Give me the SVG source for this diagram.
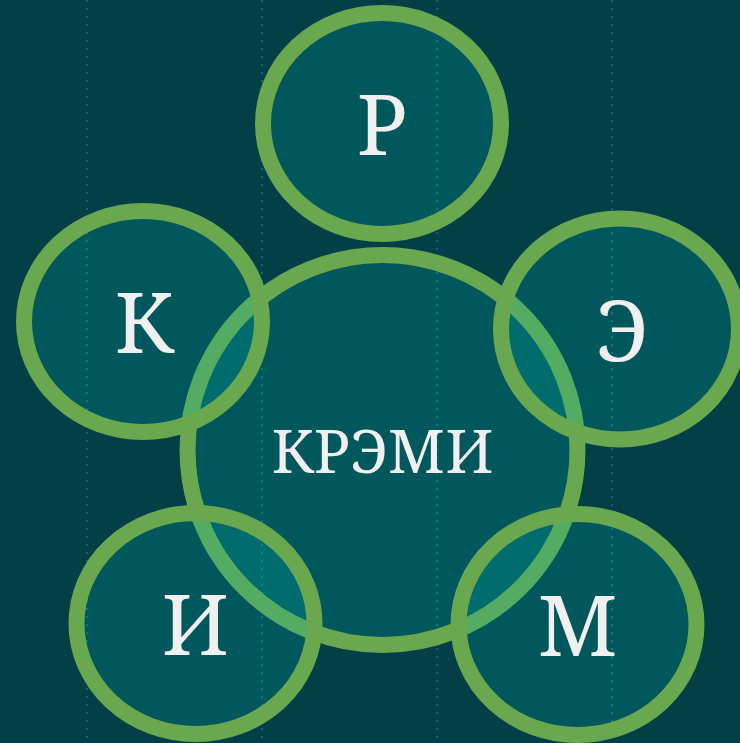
<svg xmlns="http://www.w3.org/2000/svg" width="740" height="743" viewBox="0 0 740 743">
<style>
.bg{fill:#023f47}
.grid line{stroke:#0b7580;stroke-width:1.6;stroke-dasharray:2 6}
.node ellipse,.node circle{fill:#00c0b4;fill-opacity:0.2;stroke:#6aa84f;stroke-width:16}
.lbl{font-family:"Noto Serif","DejaVu Serif",serif;fill:#f0f0f0;text-anchor:middle}
.big{font-size:84px}
.mid{font-size:60px}
</style>
<rect class="bg" x="0" y="0" width="740" height="743"/>
<g class="grid">
<line x1="87" y1="0" x2="87" y2="743"/>
<line x1="262" y1="0" x2="262" y2="743"/>
<line x1="437" y1="0" x2="437" y2="743"/>
<line x1="612" y1="0" x2="612" y2="743"/>
</g>
<g id="connectors"></g>
<g id="center" class="node">
<circle cx="382.5" cy="450" r="195"/>
<text class="lbl mid" x="382.5" y="473">КРЭМИ</text>
</g>
<g id="node-r" class="node">
<ellipse cx="382" cy="123.5" rx="119" ry="110.5"/>
<text class="lbl big" x="382" y="155">Р</text>
</g>
<g id="node-k" class="node">
<ellipse cx="143" cy="321.5" rx="119" ry="110.5"/>
<text class="lbl big" x="144" y="353">К</text>
</g>
<g id="node-e" class="node">
<ellipse cx="620" cy="329" rx="119" ry="110.5"/>
<text class="lbl big" x="622" y="361">Э</text>
</g>
<g id="node-i" class="node">
<ellipse cx="195.5" cy="623.5" rx="119" ry="110.5"/>
<text class="lbl big" x="195.5" y="655">И</text>
</g>
<g id="node-m" class="node">
<ellipse cx="577.5" cy="624.5" rx="119" ry="110.5"/>
<text class="lbl big" x="577.5" y="656">М</text>
</g>
</svg>
